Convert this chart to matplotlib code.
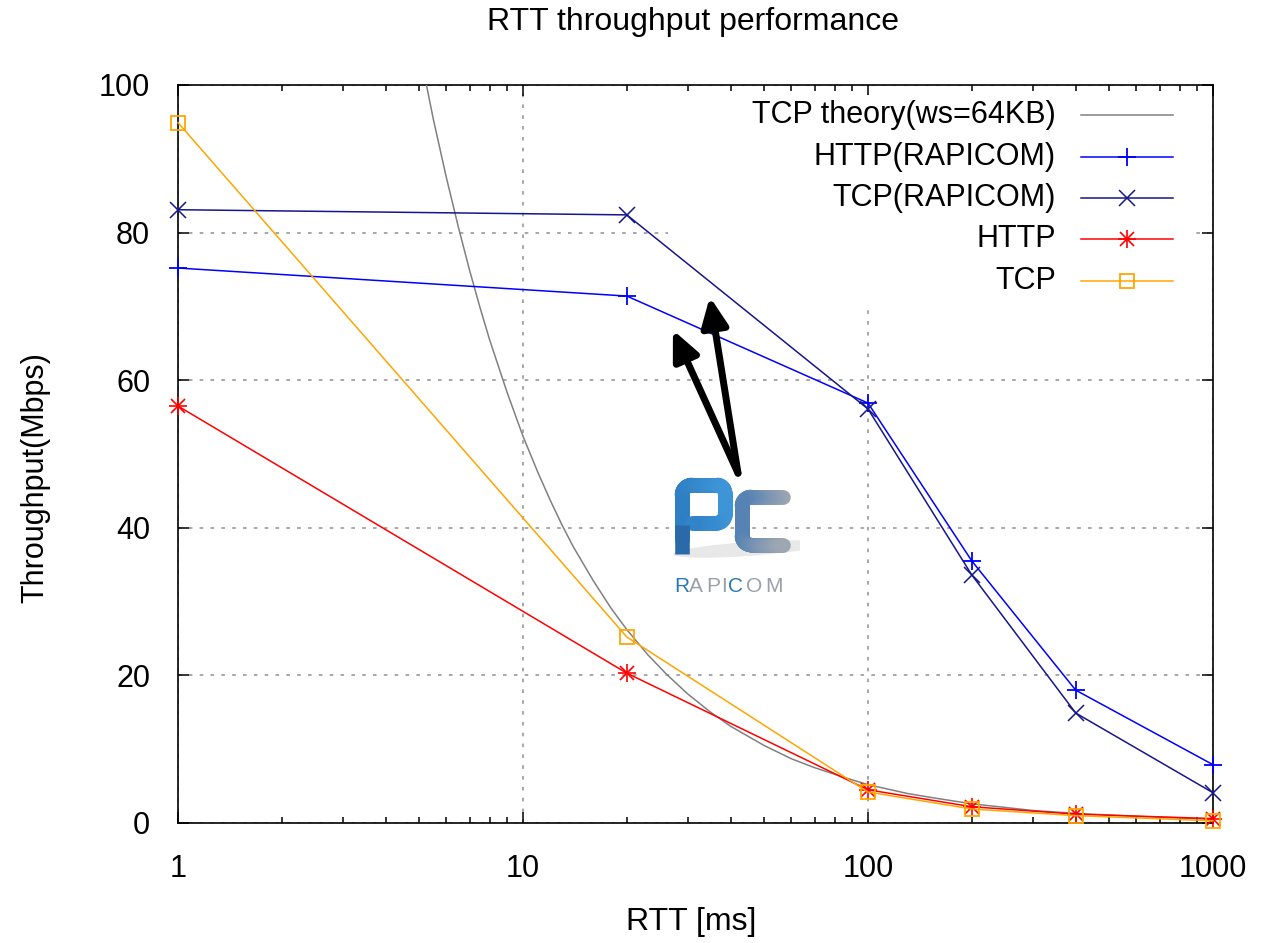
#!/usr/bin/env python3
"""RTT throughput performance (gnuplot-style log-x line chart with RAPICOM logo)."""

import numpy as np
import matplotlib
matplotlib.use('Agg')
import matplotlib.pyplot as plt
from matplotlib.patches import Rectangle, Ellipse
from matplotlib.collections import LineCollection
from matplotlib.colors import LinearSegmentedColormap
from matplotlib.ticker import FixedLocator, FixedFormatter, LogLocator, NullFormatter

plt.rcParams['font.family'] = ['Liberation Sans', 'DejaVu Sans']

# ---- data ----
RTT = [1, 20, 100, 200, 400, 1000]
HTTP_RAPICOM = [75.2, 71.4, 56.9, 35.5, 18.0, 7.9]
TCP_RAPICOM = [83.1, 82.4, 56.1, 33.6, 14.9, 4.1]
HTTP = [56.5, 20.3, 4.5, 2.2, 1.2, 0.6]
TCP = [94.9, 25.2, 4.2, 1.9, 1.0, 0.3]

RTT_THEORY = [5, 5.5, 6, 6.5, 7, 7.5, 8, 9, 10, 11, 12, 13, 14, 16, 18, 20, 23,
              26, 30, 35, 40, 50, 60, 70, 85, 100, 130, 160, 200, 300, 400,
              600, 1000]
THEORY = [104.9, 95.3, 87.4, 80.7, 74.9, 69.9, 65.5, 58.3, 52.4, 47.7, 43.7,
          40.3, 37.4, 32.8, 29.1, 26.2, 22.8, 20.2, 17.5, 15.0, 13.1, 10.5,
          8.7, 7.5, 6.2, 5.2, 4.0, 3.3, 2.6, 1.7, 1.3, 0.9, 0.5]

X_TICKS = [1, 10, 100, 1000]
X_TICK_LABELS = ['1', '10', '100', '1000']
Y_TICKS = [0, 20, 40, 60, 80, 100]

LABELS = ['TCP theory(ws=64KB)', 'HTTP(RAPICOM)', 'TCP(RAPICOM)', 'HTTP', 'TCP']

C_THEORY = '#808080'
C_HTTP_R = '#0000ff'
C_TCP_R = '#16168c'
C_HTTP = '#ff0000'
C_TCP = '#ffa500'

W, H = 1264, 943
fig = plt.figure(figsize=(W / 100, H / 100), dpi=100)
ax = fig.add_axes([178 / W, 1 - 823 / H, (1213 - 178) / W, (823 - 85) / H])

lw = 1.1
ax.plot(RTT_THEORY, THEORY, color=C_THEORY, lw=lw, zorder=3)
ax.plot(RTT, HTTP_RAPICOM, color=C_HTTP_R, lw=lw, marker='+', ms=13, mew=1.3,
        clip_on=False, zorder=4)
ax.plot(RTT, TCP_RAPICOM, color=C_TCP_R, lw=lw, marker='x', ms=11, mew=1.1,
        clip_on=False, zorder=4)
ax.plot(RTT, HTTP, color=C_HTTP, lw=lw, marker='+', ms=13, mew=1.2,
        clip_on=False, zorder=4)
ax.plot(RTT, HTTP, ls='none', color=C_HTTP, marker='x', ms=10, mew=1.2,
        clip_on=False, zorder=4)
ax.plot(RTT, TCP, color=C_TCP, lw=lw, marker='s', ms=10, mfc='none', mew=1.3,
        clip_on=False, zorder=4)

ax.set_xscale('log')
ax.set_xlim(1, 1000)
ax.set_ylim(0, 100)
ax.xaxis.set_major_locator(FixedLocator(X_TICKS))
ax.xaxis.set_major_formatter(FixedFormatter(X_TICK_LABELS))
ax.xaxis.set_minor_locator(LogLocator(base=10, subs=range(2, 10)))
ax.xaxis.set_minor_formatter(NullFormatter())
ax.set_yticks(Y_TICKS)
ax.tick_params(which='both', direction='in', top=True, right=True,
               labelsize=22, width=1.1, colors='black')
ax.tick_params(which='major', length=8)
ax.tick_params(which='minor', length=4)
ax.tick_params(axis='x', pad=22)
ax.tick_params(axis='y', pad=20)
for s in ax.spines.values():
    s.set_linewidth(1.2)

ax.set_axisbelow(True)
ax.grid(True, which='major', color='#a0a0a0', ls=(0, (2, 4)), lw=1.3)


def px_x(p):
    return (p - 178) / (1213 - 178)


def px_y(p):
    return (823 - p) / (823 - 85)


# opaque key area (hides the grid behind the legend, like gnuplot)
ax.add_patch(Rectangle((px_x(668), px_y(305)), px_x(1192) - px_x(668),
                       px_y(95) - px_y(305), transform=ax.transAxes,
                       facecolor='white', edgecolor='none', zorder=1))

# manual key: right-aligned text, sample line on the right
key_y = [115, 157, 198, 239, 281]
key_style = [
    dict(color=C_THEORY, marker=None),
    dict(color=C_HTTP_R, marker='+', ms=13, mew=1.3),
    dict(color=C_TCP_R, marker='x', ms=11, mew=1.1),
    dict(color=C_HTTP, marker='+', ms=13, mew=1.2),
    dict(color=C_TCP, marker='s', ms=10, mfc='none', mew=1.3),
]
for lab, yy, st in zip(LABELS, key_y, key_style):
    ax.text(px_x(1056), px_y(yy), lab, transform=ax.transAxes, ha='right',
            va='center', fontsize=22)
    ax.plot([px_x(1081), px_x(1173)], [px_y(yy), px_y(yy)], color=st['color'],
            lw=lw, transform=ax.transAxes, zorder=5)
    if st['marker']:
        ax.plot([px_x(1127)], [px_y(yy)], ls='none', transform=ax.transAxes,
                zorder=5, **st)
    if lab == 'HTTP':
        ax.plot([px_x(1127)], [px_y(yy)], ls='none', transform=ax.transAxes,
                zorder=5, color=C_HTTP, marker='x', ms=10, mew=1.2)

# arrows pointing from the logo to the RAPICOM curves
for tip in [(27.2, 66.8), (34.8, 71.3)]:
    ax.annotate('', xy=tip, xytext=(42.0, 47.4),
                arrowprops=dict(arrowstyle='-|>,head_length=0.7,head_width=0.32',
                                lw=5, color='black', mutation_scale=25,
                                shrinkA=0, shrinkB=0), zorder=6)

# titles
fig.text(693 / W, 1 - 22 / H, 'RTT throughput performance', ha='center',
         va='center', fontsize=23)
fig.text(691 / W, 1 - 922 / H, 'RTT [ms]', ha='center', va='center', fontsize=23)
fig.text(35 / W, 1 - 478 / H, 'Throughput(Mbps)', ha='center', va='center',
         rotation=90, fontsize=22)

# ---- RAPICOM logo (pixel coordinates in a small overlay axes) ----
lx0, lx1, ly0, ly1 = 660, 800, 465, 600
lg = fig.add_axes([lx0 / W, 1 - ly1 / H, (lx1 - lx0) / W, (ly1 - ly0) / H])
lg.set_xlim(lx0, lx1)
lg.set_ylim(ly1, ly0)
lg.axis('off')
lg.patch.set_alpha(0)


def arc(cx, cy, r, a0, a1, n=12):
    t = np.radians(np.linspace(a0, a1, n))
    return list(zip(cx + r * np.cos(t), cy + r * np.sin(t)))


def densify(pts, step=1.0):
    out = []
    for (x0, y0), (x1, y1) in zip(pts[:-1], pts[1:]):
        n = max(int(np.hypot(x1 - x0, y1 - y0) / step), 1)
        for k in range(n):
            out.append((x0 + (x1 - x0) * k / n, y0 + (y1 - y0) * k / n))
    out.append(pts[-1])
    return out


def stroke(pts, cmap, xr, width=10.5, z=2):
    pts = np.array(densify(pts), dtype=float)
    segs = np.stack([pts[:-1], pts[1:]], axis=1)
    mid = (pts[:-1, 0] + pts[1:, 0]) / 2
    cols = cmap(np.clip((mid - xr[0]) / (xr[1] - xr[0]), 0, 1))
    lc = LineCollection(segs, colors=cols, linewidths=width,
                        capstyle='round', joinstyle='round', zorder=z)
    lg.add_collection(lc)


lg.add_patch(Ellipse((748, 549), 150, 14, angle=-4, facecolor='#e8e8e8',
                     edgecolor='none', zorder=1))

r_cmap = LinearSegmentedColormap.from_list('r', ['#2f7fc4', '#3d95d8'])
c_cmap = LinearSegmentedColormap.from_list('c', ['#4a7db4', '#7d96b3', '#a6abb0'])

# R : stem, rounded top, bowl
r_pts = [(682, 540), (682, 495)] + arc(692, 495, 10, 180, 270) + \
        [(717, 485)] + arc(717, 493, 8, 270, 360) + [(725, 515)] + \
        arc(717, 515, 8, 0, 90) + [(692, 523)]
stroke(r_pts, r_cmap, (682, 726))
lg.plot([682, 682], [525, 554], color='#2a6aa8', lw=10.5,
        solid_capstyle='butt', zorder=3)

# C : open to the right, blue fading to grey
c_pts = [(783, 497), (751, 497)] + arc(751, 506, 9, 270, 180) + \
        [(742, 536)] + arc(751, 536, 9, 180, 90) + [(783, 545)]
stroke(c_pts, c_cmap, (736, 788))

letters = ['R', 'A', 'P', 'I', 'C', 'O', 'M']
letter_x = [674, 689, 706, 721, 728, 746, 765]
letter_c = ['#2a78b8', '#9aa0a8', '#9aa0a8', '#9aa0a8', '#2a78b8', '#9aa0a8', '#9aa0a8']
for ch, xx, col in zip(letters, letter_x, letter_c):
    lg.text(xx, 592, ch, color=col, fontsize=15, ha='left', va='baseline')

fig.savefig('out.png', dpi=100)
print('Saved out.png')
